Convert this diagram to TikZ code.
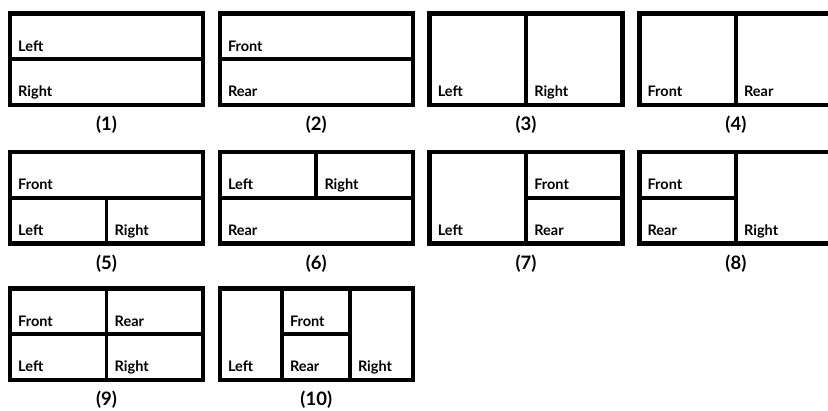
\documentclass[tikz,border=0pt]{standalone}
\usepackage{fontspec}
\setmainfont{Lato}
\usepackage{tikz}
\tikzset{
  panelframe/.style={draw=black, line width=4.3pt, line join=miter},
  splitline/.style={draw=black, line width=3.8pt},
  celllabel/.style={anchor=base west, inner sep=0pt, font=\fontsize{14.5}{16}\selectfont\bfseries},
  panelcap/.style={anchor=center, inner sep=0pt, font=\fontsize{18.5}{21}\selectfont\bfseries},
}
\def\pw{193}
\def\ph{91.5}
\def\hw{96.5}
\def\hh{45.75}

\begin{document}
\begin{tikzpicture}[x=1pt, y=-1pt]
\useasboundingbox (0,0) rectangle (828,411);

% row 1
\begin{scope}[shift={(10,13.5)}]
  \draw[panelframe] (0,0) rectangle (\pw,\ph);
  \draw[splitline] (0,\hh) -- (\pw,\hh);
  \node[celllabel] (p1a) at (8,\hh-8) {Left};
  \node[celllabel] (p1b) at (8,\ph-8) {Right};
  \node[panelcap] (cap1) at (\hw,\ph+20) {(1)};
\end{scope}
\begin{scope}[shift={(219.8,13.5)}]
  \draw[panelframe] (0,0) rectangle (\pw,\ph);
  \draw[splitline] (0,\hh) -- (\pw,\hh);
  \node[celllabel] (p2a) at (8,\hh-8) {Front};
  \node[celllabel] (p2b) at (8,\ph-8) {Rear};
  \node[panelcap] (cap2) at (\hw,\ph+20) {(2)};
\end{scope}
\begin{scope}[shift={(429.6,13.5)}]
  \draw[panelframe] (0,0) rectangle (\pw,\ph);
  \draw[splitline] (\hw,0) -- (\hw,\ph);
  \node[celllabel] (p3a) at (8,\ph-8) {Left};
  \node[celllabel] (p3b) at (\hw+8,\ph-8) {Right};
  \node[panelcap] (cap3) at (\hw,\ph+20) {(3)};
\end{scope}
\begin{scope}[shift={(639.4,13.5)}]
  \draw[panelframe] (0,0) rectangle (\pw,\ph);
  \draw[splitline] (\hw,0) -- (\hw,\ph);
  \node[celllabel] (p4a) at (8,\ph-8) {Front};
  \node[celllabel] (p4b) at (\hw+8,\ph-8) {Rear};
  \node[panelcap] (cap4) at (\hw,\ph+20) {(4)};
\end{scope}

% row 2
\begin{scope}[shift={(10,152)}]
  \draw[panelframe] (0,0) rectangle (\pw,\ph);
  \draw[splitline] (0,\hh) -- (\pw,\hh);
  \draw[splitline] (\hw,\hh) -- (\hw,\ph);
  \node[celllabel] (p5a) at (8,\hh-8) {Front};
  \node[celllabel] (p5b) at (8,\ph-8) {Left};
  \node[celllabel] (p5c) at (\hw+8,\ph-8) {Right};
  \node[panelcap] (cap5) at (\hw,\ph+20) {(5)};
\end{scope}
\begin{scope}[shift={(219.8,152)}]
  \draw[panelframe] (0,0) rectangle (\pw,\ph);
  \draw[splitline] (0,\hh) -- (\pw,\hh);
  \draw[splitline] (\hw,0) -- (\hw,\hh);
  \node[celllabel] (p6a) at (8,\hh-8) {Left};
  \node[celllabel] (p6b) at (\hw+8,\hh-8) {Right};
  \node[celllabel] (p6c) at (8,\ph-8) {Rear};
  \node[panelcap] (cap6) at (\hw,\ph+20) {(6)};
\end{scope}
\begin{scope}[shift={(429.6,152)}]
  \draw[panelframe] (0,0) rectangle (\pw,\ph);
  \draw[splitline] (\hw,0) -- (\hw,\ph);
  \draw[splitline] (\hw,\hh) -- (\pw,\hh);
  \node[celllabel] (p7a) at (8,\ph-8) {Left};
  \node[celllabel] (p7b) at (\hw+8,\hh-8) {Front};
  \node[celllabel] (p7c) at (\hw+8,\ph-8) {Rear};
  \node[panelcap] (cap7) at (\hw,\ph+20) {(7)};
\end{scope}
\begin{scope}[shift={(639.4,152)}]
  \draw[panelframe] (0,0) rectangle (\pw,\ph);
  \draw[splitline] (\hw,0) -- (\hw,\ph);
  \draw[splitline] (0,\hh) -- (\hw,\hh);
  \node[celllabel] (p8a) at (8,\hh-8) {Front};
  \node[celllabel] (p8b) at (8,\ph-8) {Rear};
  \node[celllabel] (p8c) at (\hw+8,\ph-8) {Right};
  \node[panelcap] (cap8) at (\hw,\ph+20) {(8)};
\end{scope}

% row 3
\begin{scope}[shift={(10,288.5)}]
  \draw[panelframe] (0,0) rectangle (\pw,\ph);
  \draw[splitline] (0,\hh) -- (\pw,\hh);
  \draw[splitline] (\hw,0) -- (\hw,\ph);
  \node[celllabel] (p9a) at (8,\hh-8) {Front};
  \node[celllabel] (p9b) at (\hw+8,\hh-8) {Rear};
  \node[celllabel] (p9c) at (8,\ph-8) {Left};
  \node[celllabel] (p9d) at (\hw+8,\ph-8) {Right};
  \node[panelcap] (cap9) at (\hw,\ph+20) {(9)};
\end{scope}
\begin{scope}[shift={(219.8,288.5)}]
  \draw[panelframe] (0,0) rectangle (\pw,\ph);
  \draw[splitline] (62,0) -- (62,\ph);
  \draw[splitline] (130,0) -- (130,\ph);
  \draw[splitline] (62,\hh) -- (130,\hh);
  \node[celllabel] (p10a) at (8,\ph-8) {Left};
  \node[celllabel] (p10b) at (70,\hh-8) {Front};
  \node[celllabel] (p10c) at (70,\ph-8) {Rear};
  \node[celllabel] (p10d) at (138,\ph-8) {Right};
  \node[panelcap] (cap10) at (\hw,\ph+20) {(10)};
\end{scope}
\end{tikzpicture}
\end{document}
